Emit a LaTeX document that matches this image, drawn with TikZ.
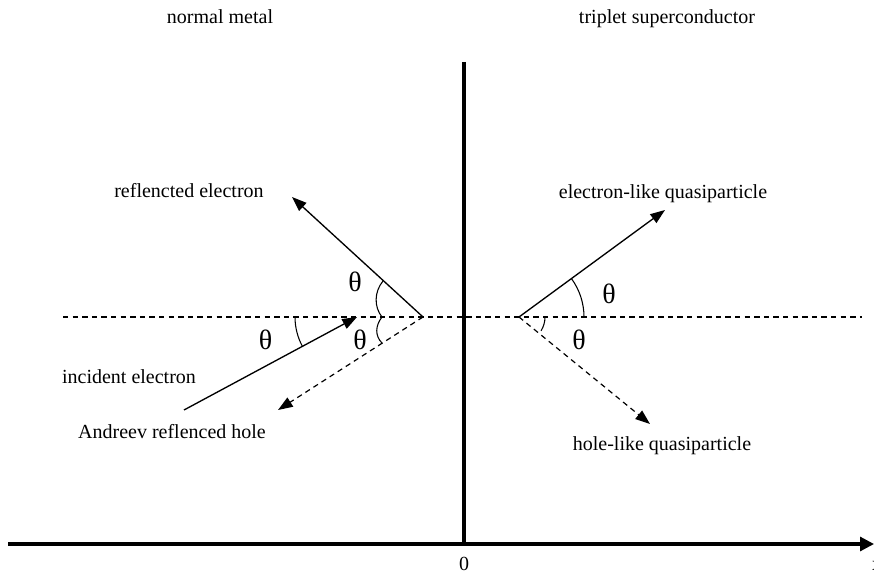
\documentclass[tikz,border=0pt]{standalone}
\usepackage{fontspec}
\setmainfont{Liberation Serif}
\usetikzlibrary{arrows.meta}
\tikzset{
  lbl/.style={anchor=base, inner sep=0pt, font=\fontsize{15}{18}\selectfont},
  ang/.style={inner sep=0pt, font=\fontsize{21}{24}\selectfont},
  axisline/.style={line width=2.3pt},
  ray/.style={line width=1pt, -{Triangle[length=11pt,width=8pt]}},
  dray/.style={line width=0.9pt, dash pattern=on 4pt off 3.2pt, -{Triangle[length=11pt,width=8pt]}},
  dline/.style={line width=0.8pt, dash pattern=on 4pt off 3.2pt},
  arcline/.style={line width=0.8pt}
}
\begin{document}
\begin{tikzpicture}[x=0.75pt,y=-0.75pt]
\useasboundingbox (0,0) rectangle (874,574);
% key points
\coordinate (L) at (423,317);
\coordinate (Rp) at (519,317);
\coordinate (I0) at (184,410);
\coordinate (I) at (357,317);
\coordinate (R) at (292,197);
\coordinate (A) at (278,410);
\coordinate (E) at (665,210);
\coordinate (H) at (650,424);
\coordinate (D1) at (63,317);
\coordinate (D2) at (862,317);
\coordinate (X0) at (8,544);
\coordinate (X1) at (874,544);
\coordinate (V0) at (464,62);
\coordinate (V1) at (464,544);
% axes
\draw[axisline, -{Triangle[length=10.5pt,width=10.5pt]}] (X0) -- (X1);
\draw[axisline] (V0) -- (V1);
% dashed interface normal
\draw[dline] (D1) -- (D2);
% rays
\draw[ray] (I0) -- (I);
\draw[ray] (L) -- (R);
\draw[dray] (L) -- (A);
\draw[ray] (Rp) -- (E);
\draw[dray] (Rp) -- (H);
% angle arcs
\draw[arcline] ([shift={(I)}]180:62) arc[start angle=180, end angle=151.7, radius=62];
\draw[arcline] (383,281) .. controls (374,292) and (374,307) .. (382,317);
\draw[arcline] (382,317) .. controls (375,326) and (375,336) .. (382,343);
\draw[arcline] ([shift={(Rp)}]-36.2:65) arc[start angle=-36.2, end angle=0, radius=65];
\draw[arcline] ([shift={(Rp)}]0:26) arc[start angle=0, end angle=32, radius=26];
% angle labels
\node[ang] (t1) at (265.5,340) {θ};
\node[ang] (t2) at (355,282) {θ};
\node[ang] (t3) at (360,340) {θ};
\node[ang] (t4) at (609,294) {θ};
\node[ang] (t5) at (579,340) {θ};
% texts
\node[lbl] (nm) at (220,24) {normal metal};
\node[lbl] (ts) at (667,24) {triplet superconductor};
\node[lbl] (re) at (189,197) {reflencted electron};
\node[lbl] (el) at (663,198) {electron-like quasiparticle};
\node[lbl] (ie) at (129,383.5) {incident electron};
\node[lbl] (ah) at (172,438.5) {Andreev reflenced hole};
\node[lbl] (hl) at (662,450) {hole-like quasiparticle};
\node[lbl] (zero) at (464,570.5) {0};
\node[lbl] (xl) at (877,570.5) {x};
\end{tikzpicture}
\end{document}
